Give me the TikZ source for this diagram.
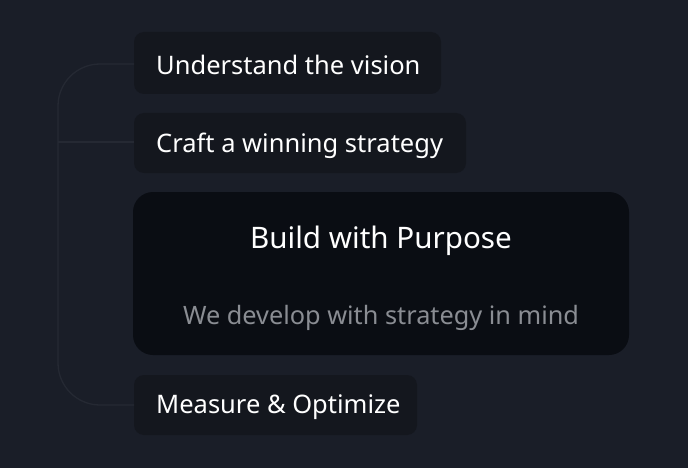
\documentclass[tikz,border=0pt]{standalone}
\usepackage{fontspec}
\setmainfont{Noto Sans}
\definecolor{bg}{HTML}{1A1E28}
\definecolor{chip}{HTML}{14171E}
\definecolor{card}{HTML}{0A0D13}
\definecolor{wire}{HTML}{252933}
\definecolor{muted}{HTML}{8A8D93}
\begin{document}
\begin{tikzpicture}[x=1pt,y=-1pt,
  chipbox/.style={fill=chip,rounded corners=10pt,inner sep=0pt},
  wireline/.style={draw=wire,line width=1.3pt,rounded corners=42pt},
  lbl/.style={text=white,font=\fontsize{25.5}{30}\selectfont,anchor=west,inner sep=0pt}]
\fill[bg] (0,0) rectangle (688,468);
% step chips
\fill[chipbox] (134,32) rectangle (441,94);
\fill[chipbox] (134,113) rectangle (466,173);
\fill[card,rounded corners=20pt] (133,192) rectangle (629,355);
\fill[chipbox] (134,375) rectangle (417,435);
\coordinate (c1) at (134,64);
\coordinate (c2) at (134,142);
\coordinate (c4) at (134,405);
\coordinate (spine) at (58,142);
% connector spine
\draw[wireline] (c1) -- (58,64) -- (58,405) -- (c4);
\draw[wire,line width=1.3pt] (spine) -- (c2);
\node[lbl] (t1) at (156,65) {Understand the vision};
\node[lbl] (t2) at (156,146) {Craft a winning strategy};
\node[lbl] (t4) at (156,407) {Measure \& Optimize};
\node[text=white,inner sep=0pt,font=\fontsize{29.6}{34}\selectfont] (h) at (381,241) {Build with Purpose};
\node[text=muted,inner sep=0pt,font=\fontsize{25.3}{30}\selectfont] (s) at (381,318) {We develop with strategy in mind};
\end{tikzpicture}
\end{document}
